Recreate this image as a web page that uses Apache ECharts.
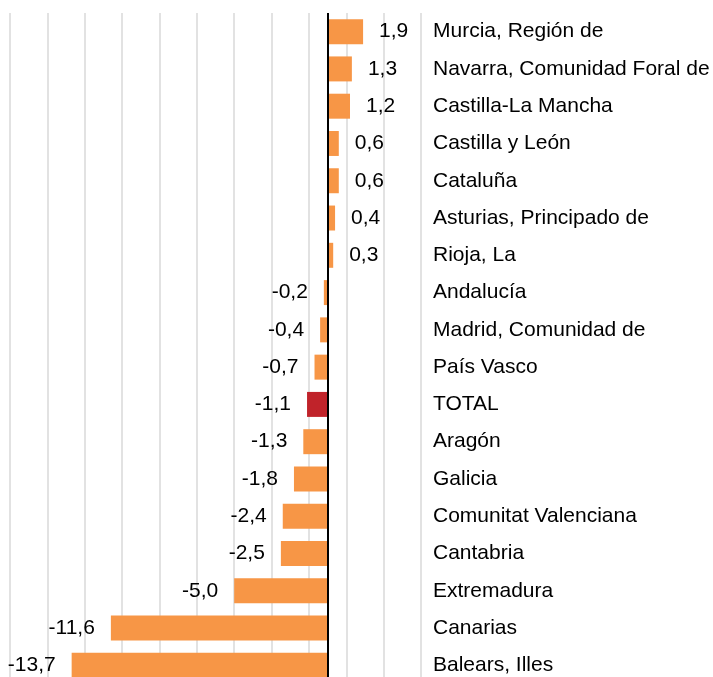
<!DOCTYPE html>
<html>
<head>
<meta charset="utf-8">
<script src="https://cdn.jsdelivr.net/npm/echarts@6/dist/echarts.min.js"></script>
<style>
html,body{margin:0;padding:0;background:#fff;overflow:hidden;}
#chart{width:713px;height:686px;}
</style>
</head>
<body>
<div id="chart"></div>
<script>
var categories = ['Murcia, Región de','Navarra, Comunidad Foral de','Castilla-La Mancha','Castilla y León','Cataluña','Asturias, Principado de','Rioja, La','Andalucía','Madrid, Comunidad de','País Vasco','TOTAL','Aragón','Galicia','Comunitat Valenciana','Cantabria','Extremadura','Canarias','Balears, Illes'];
var values = [1.9,1.3,1.2,0.6,0.6,0.4,0.3,-0.2,-0.4,-0.7,-1.1,-1.3,-1.8,-2.4,-2.5,-5.0,-11.6,-13.7];
var highlight = 'TOTAL';

var font = 'Liberation Sans, Arial, sans-serif';
// el grafico es un poco mas alto que la ventana: la ultima barra queda cortada como en el original
var myChart = echarts.init(document.getElementById('chart'));

// cada barra con su color y la etiqueta al lado correcto
var barData = values.map(function(v, i) {
	return {
		value : v,
		itemStyle : { color : categories[i] == highlight ? '#C0232A' : '#F79646' },
		label : { position : v < 0 ? 'left' : 'right' }
	};
});

myChart.setOption({
	animation : false,
	grid : { left : 10, top : 13, width : 411, height : 671 },
	xAxis : {
		type : 'value',
		min : -17,
		max : 5,
		interval : 2,
		axisLine : { show : false },
		axisTick : { show : false },
		axisLabel : { show : false },
		splitLine : { show : true, lineStyle : { color : '#d9d9d9', width : 1.5 } }
	},
	yAxis : {
		type : 'category',
		data : categories,
		inverse : true,
		position : 'right',
		axisLine : { show : false, onZero : false },
		axisTick : { show : false },
		axisLabel : { margin : 12, color : '#000', fontSize : 21, fontFamily : font, align : 'left' }
	},
	series : [ {
		type : 'bar',
		data : barData,
		barCategoryGap : '33%',
		label : {
			show : true,
			distance : 16,
			color : '#000',
			fontSize : 21,
			fontFamily : font,
			formatter : function(p) {
				return p.value.toFixed(1).replace('.', ',');
			}
		},
		markLine : {
			silent : true,
			symbol : 'none',
			label : { show : false },
			lineStyle : { color : '#000', width : 2, type : 'solid' },
			data : [ { xAxis : 0 } ]
		}
	} ]
});
</script>
</body>
</html>
